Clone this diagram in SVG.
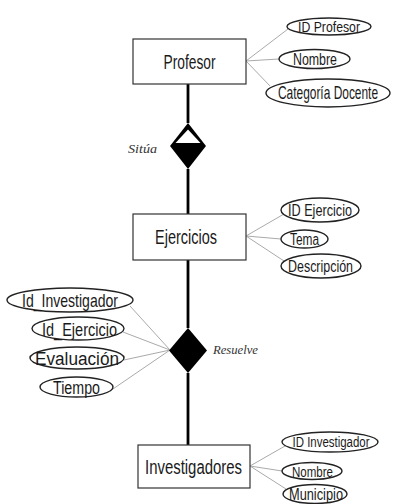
<svg xmlns="http://www.w3.org/2000/svg" width="393" height="504" viewBox="0 0 393 504">
<style>
.ent{fill:#fff;stroke:#333;stroke-width:1.2}
.att{fill:#fff;stroke:#222;stroke-width:1.4}
.t{font-family:"Liberation Sans",Arial,sans-serif;fill:#1a1a1a;text-anchor:middle}
.et{font-size:20px}
.rel{font-family:"Liberation Serif","Times New Roman",serif;font-style:italic;font-size:13px;fill:#333}
.main{stroke:#000;stroke-width:2.8;fill:none}
.thin{stroke:#aaa;stroke-width:1;fill:none}
</style>
<rect width="393" height="504" fill="#fff"/>
<g id="connectors">
<line class="main" x1="188" y1="84" x2="188" y2="123"/>
<line class="main" x1="188" y1="169" x2="188" y2="214"/>
<line class="main" x1="188" y1="260" x2="188" y2="328"/>
<line class="main" x1="188" y1="373" x2="188" y2="445"/>
<path class="thin" d="M246 61 L288 29 M246 61 L279 59 M246 61 L270 86"/>
<path class="thin" d="M246 236 L284 214 M246 236 L281 239 M246 236 L284 261"/>
<path class="thin" d="M250 466 L285 446 M250 466 L282 471 M250 466 L286 489"/>
<path class="thin" d="M170 350 L130 306 M170 350 L123 332 M170 350 L124 360 M170 350 L110 391"/>
</g>
<g id="profesor">
<rect class="ent" x="133" y="39" width="113" height="45"/>
<text class="t et" x="189.5" y="68.5" textLength="52" lengthAdjust="spacingAndGlyphs">Profesor</text>
</g>
<g id="attr-id-profesor">
<ellipse class="att" cx="329" cy="26.5" rx="42" ry="8.5"/>
<text class="t" font-size="15" x="329" y="31.5" textLength="62" lengthAdjust="spacingAndGlyphs">ID Profesor</text>
</g>
<g id="attr-nombre-profesor">
<ellipse class="att" cx="314.5" cy="59" rx="35.5" ry="9.5"/>
<text class="t" font-size="16" x="315" y="64.5" textLength="44" lengthAdjust="spacingAndGlyphs">Nombre</text>
</g>
<g id="attr-categoria">
<ellipse class="att" cx="328" cy="93" rx="62" ry="14"/>
<text class="t" font-size="18" x="0" y="0" transform="translate(328,99) scale(0.65,1)" textLength="154" lengthAdjust="spacingAndGlyphs">Categoría Docente</text>
</g>
<g id="situa">
<polygon points="188,123 206,146 188,169 170,146" fill="#000"/>
<polygon points="188,129.5 200.5,143 175.5,143" fill="#fff"/>
<text class="rel" x="128" y="153" textLength="29" lengthAdjust="spacingAndGlyphs">Sitúa</text>
</g>
<g id="ejercicios">
<rect class="ent" x="133" y="214" width="113" height="46"/>
<text class="t et" x="186" y="244" textLength="62" lengthAdjust="spacingAndGlyphs">Ejercicios</text>
</g>
<g id="attr-id-ejercicio">
<ellipse class="att" cx="320" cy="210" rx="39" ry="12"/>
<text class="t" font-size="17" x="320" y="216" textLength="64" lengthAdjust="spacingAndGlyphs">ID Ejercicio</text>
</g>
<g id="attr-tema">
<ellipse class="att" cx="304.5" cy="239" rx="23.5" ry="9"/>
<text class="t" font-size="16" x="304.5" y="244.5" textLength="29" lengthAdjust="spacingAndGlyphs">Tema</text>
</g>
<g id="attr-descripcion">
<ellipse class="att" cx="321" cy="266" rx="40" ry="12"/>
<text class="t" font-size="17" x="320.5" y="272" textLength="65" lengthAdjust="spacingAndGlyphs">Descripción</text>
</g>
<g id="resuelve">
<polygon points="188,328 207,350.5 188,373 169,350.5" fill="#000"/>
<text class="rel" x="213" y="354" textLength="45" lengthAdjust="spacingAndGlyphs">Resuelve</text>
</g>
<g id="attr-id-investigador-rel">
<ellipse class="att" cx="70" cy="300" rx="63" ry="12"/>
<text class="t" font-size="19" x="70" y="307" textLength="96" lengthAdjust="spacingAndGlyphs">Id_Investigador</text>
</g>
<g id="attr-id-ejercicio-rel">
<ellipse class="att" cx="78" cy="328.5" rx="46" ry="11.5"/>
<text class="t" font-size="19" x="79.5" y="335.5" textLength="75" lengthAdjust="spacingAndGlyphs">Id_Ejercicio</text>
</g>
<g id="attr-evaluacion">
<ellipse class="att" cx="77" cy="358" rx="47" ry="11"/>
<text class="t" font-size="18" x="77" y="364.5" textLength="84" lengthAdjust="spacingAndGlyphs">Evaluación</text>
</g>
<g id="attr-tiempo">
<ellipse class="att" cx="76.5" cy="387" rx="36.5" ry="10"/>
<text class="t" font-size="18" x="76.5" y="393.5" textLength="47" lengthAdjust="spacingAndGlyphs">Tiempo</text>
</g>
<g id="investigadores">
<rect class="ent" x="138" y="445" width="112" height="43"/>
<text class="t et" x="193.5" y="473.5" textLength="97" lengthAdjust="spacingAndGlyphs">Investigadores</text>
</g>
<g id="attr-id-investigador">
<ellipse class="att" cx="330" cy="442" rx="48" ry="10"/>
<text class="t" font-size="14" x="331" y="447" textLength="77" lengthAdjust="spacingAndGlyphs">ID Investigador</text>
</g>
<g id="attr-nombre-investigador">
<ellipse class="att" cx="312" cy="471" rx="30" ry="8.5"/>
<text class="t" font-size="15" x="312.5" y="476.5" textLength="41" lengthAdjust="spacingAndGlyphs">Nombre</text>
</g>
<g id="attr-municipio">
<ellipse class="att" cx="315" cy="494" rx="32" ry="9.5"/>
<text class="t" font-size="16" x="316" y="499.5" textLength="54" lengthAdjust="spacingAndGlyphs">Municipio</text>
</g>
</svg>
